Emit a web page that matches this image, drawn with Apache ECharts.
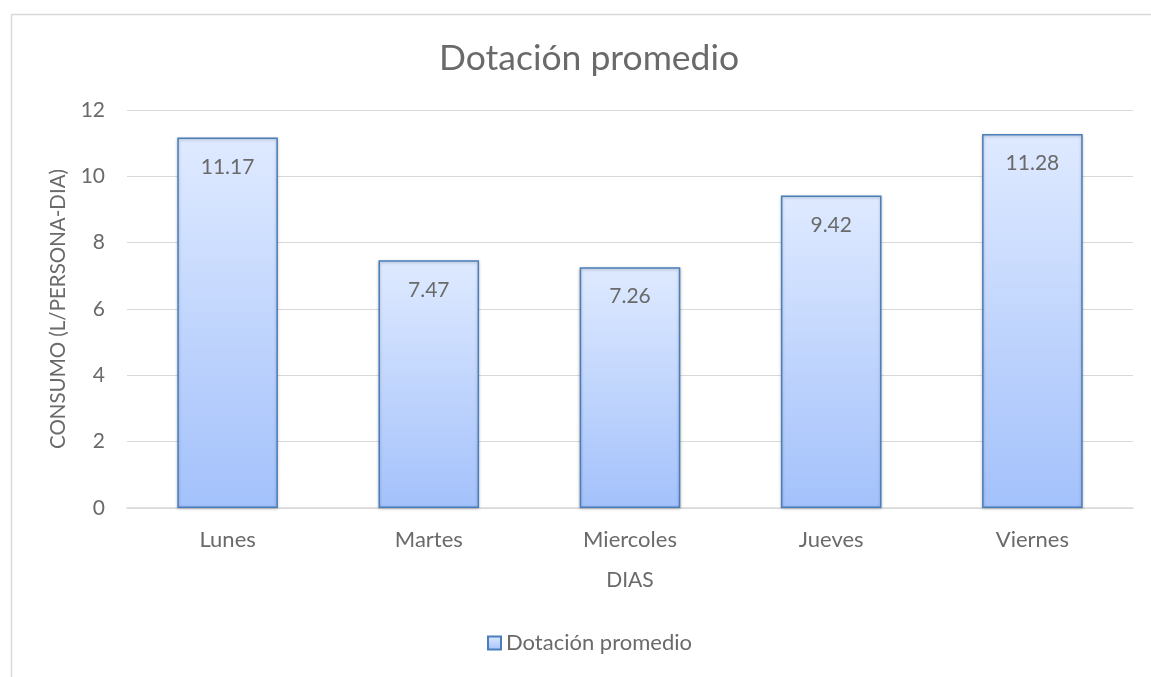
<!DOCTYPE html>
<html><head><meta charset="utf-8">
<script src="https://cdn.jsdelivr.net/npm/echarts@6/dist/echarts.min.js"></script>
<style>html,body{margin:0;padding:0;background:#fff}#c{width:1151px;height:677px}</style>
</head><body><div id="c"></div>
<script>
const categories = ['Lunes', 'Martes', 'Miercoles', 'Jueves', 'Viernes'];
const values = [11.17, 7.47, 7.26, 9.42, 11.28];
const seriesName = 'Dotación promedio';
const titleText = 'Dotación promedio';
const xName = 'DIAS';
const yName = 'CONSUMO (L/PERSONA-DIA)';

const FONT = 'Lato, "Open Sans", sans-serif';
const TC = '#6a6a6a';
const chart = echarts.init(document.getElementById('c'), null, {renderer: 'canvas'});
const grad = new echarts.graphic.LinearGradient(0, 0, 0, 1, [
  {offset: 0, color: '#dfeaff'},
  {offset: 1, color: '#a3c1fb'}
]);
chart.setOption({
  backgroundColor: '#fff',
  textStyle: {fontFamily: FONT},
  graphic: [{
    type: 'rect', left: 9, top: 12, silent: true,
    shape: {width: 1200, height: 700},
    style: {fill: 'none', stroke: '#d9d9d9', lineWidth: 1.5}
  }],
  title: {
    text: titleText, left: 434, top: 36,
    textStyle: {fontFamily: FONT, fontSize: 35.5, fontWeight: 'normal', color: TC}
  },
  legend: {
    data: [seriesName], bottom: 18, left: 482,
    itemWidth: 13, itemHeight: 13, itemGap: 4,
    textStyle: {fontFamily: FONT, fontSize: 22, color: TC},
    icon: 'rect'
  },
  grid: {left: 127, right: 18, top: 110, bottom: 169, containLabel: false},
  xAxis: {
    type: 'category', data: categories,
    name: xName, nameLocation: 'middle', nameGap: 62,
    nameTextStyle: {fontFamily: FONT, fontSize: 21, color: TC},
    axisLine: {lineStyle: {color: '#d9d9d9', width: 1.5}},
    axisTick: {show: false},
    axisLabel: {fontFamily: FONT, fontSize: 22, color: TC, margin: 21}
  },
  yAxis: {
    type: 'value', min: 0, max: 12, interval: 2,
    name: yName, nameLocation: 'middle', nameGap: 58, nameRotate: 90,
    nameTextStyle: {fontFamily: FONT, fontSize: 20.5, color: TC},
    axisLine: {show: false}, axisTick: {show: false},
    splitLine: {lineStyle: {color: '#d9d9d9', width: 1.2}},
    axisLabel: {fontFamily: FONT, fontSize: 21, color: TC, margin: 22}
  },
  series: [{
    name: seriesName, type: 'bar', data: values, barWidth: '50%',
    itemStyle: {color: grad, borderColor: '#4a7ebb', borderWidth: 1.5,
      shadowColor: 'rgba(0,0,0,0.25)', shadowBlur: 3, shadowOffsetY: 1},
    label: {show: true, position: 'insideTop', distance: 19,
      fontFamily: FONT, fontSize: 21, color: TC, formatter: p => p.value.toFixed(2)}
  }]
});
</script></body></html>
